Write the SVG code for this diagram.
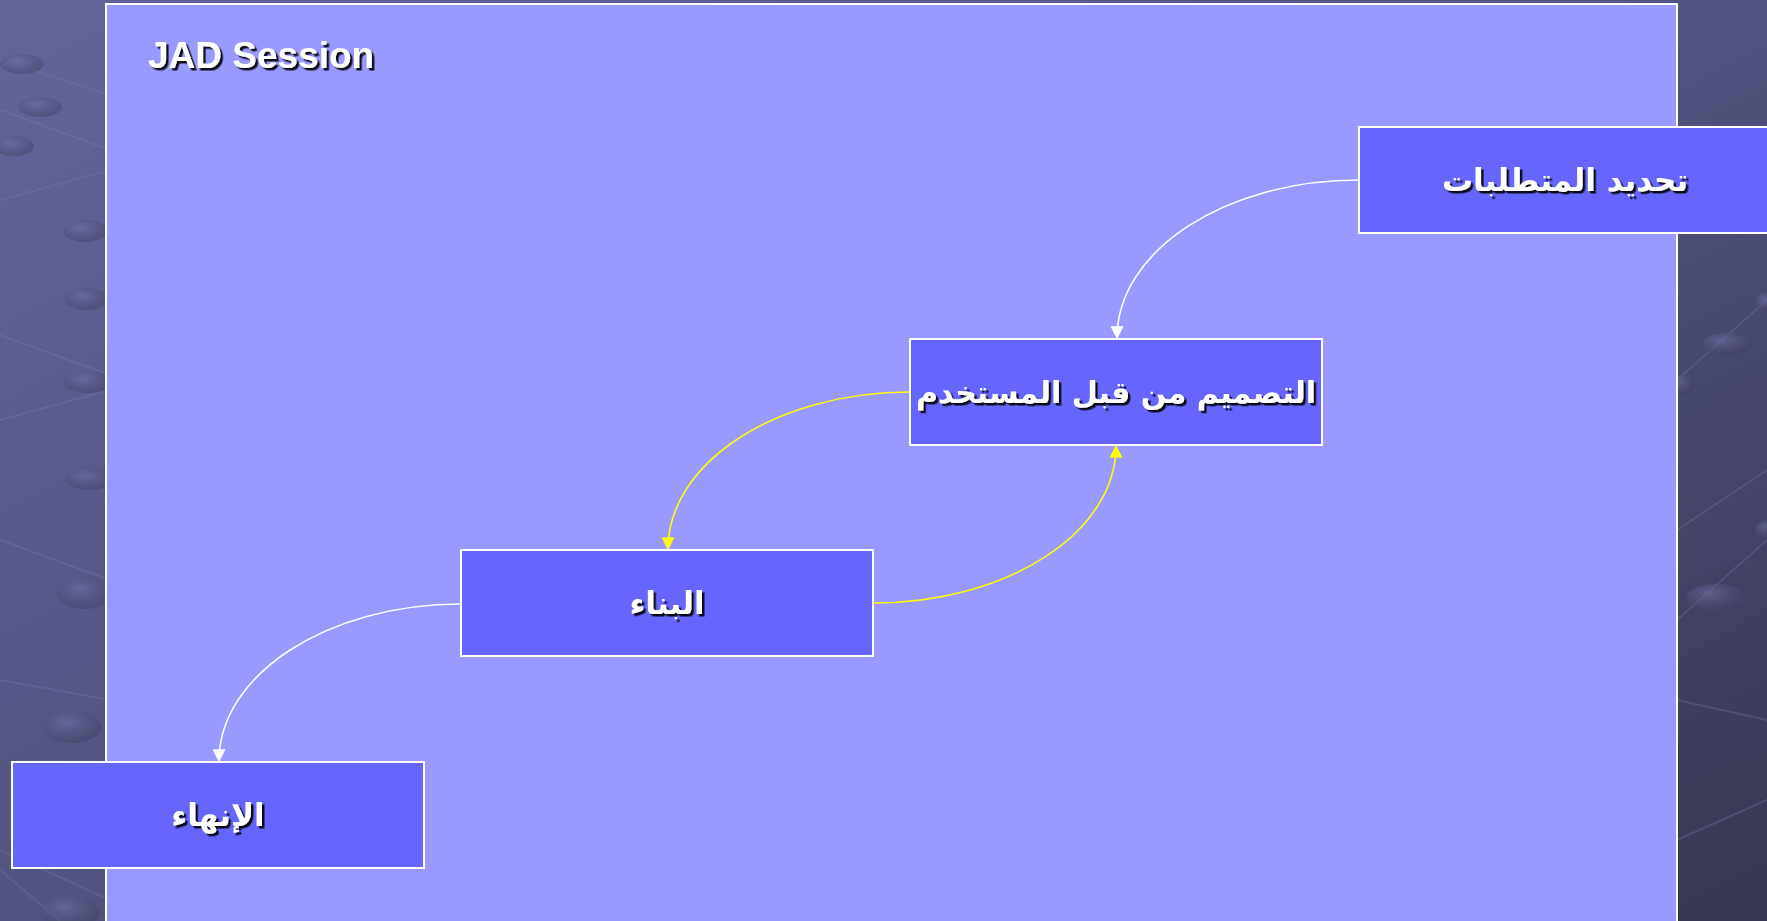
<svg xmlns="http://www.w3.org/2000/svg" width="1767" height="921" viewBox="0 0 1767 921">
<defs>
<linearGradient id="bg" x1="0" y1="0" x2="1" y2="1">
<stop offset="0" stop-color="#62639a"/>
<stop offset="0.5" stop-color="#52537f"/>
<stop offset="1" stop-color="#363650"/>
</linearGradient>
<radialGradient id="dot" cx="0.4" cy="0.35" r="0.7">
<stop offset="0" stop-color="#7070a6" stop-opacity="0.6"/>
<stop offset="1" stop-color="#3a3a5a" stop-opacity="0.4"/>
</radialGradient>
<filter id="sh" x="-10%" y="-30%" width="130%" height="170%">
<feDropShadow dx="2.5" dy="2.5" stdDeviation="0.6" flood-color="#000000" flood-opacity="0.9"/>
</filter>
<marker id="aw" viewBox="0 0 10 10" refX="9" refY="5" markerWidth="14" markerHeight="13" markerUnits="userSpaceOnUse" orient="auto">
<path d="M0,0 L10,5 L0,10 z" fill="#ffffff"/>
</marker>
<marker id="ay" viewBox="0 0 10 10" refX="9" refY="5" markerWidth="14" markerHeight="13" markerUnits="userSpaceOnUse" orient="auto">
<path d="M0,0 L10,5 L0,10 z" fill="#ffff00"/>
</marker>
</defs>
<style>
.node rect { fill: #6666ff; stroke: #ffffff; stroke-width: 2; }
.lbl { font-family: "DejaVu Sans", "Noto Sans", sans-serif; font-weight: bold; font-size: 31px; fill: #ffffff; text-anchor: middle; filter: url(#sh); }
.lbl.long { font-size: 30px; }
.title { font-family: "Liberation Sans", Arial, sans-serif; font-weight: bold; font-size: 37px; fill: #ffffff; filter: url(#sh); }
.cw { fill: none; stroke: #ffffff; stroke-width: 1.6; marker-end: url(#aw); }
.cy { fill: none; stroke: #ffff00; stroke-width: 1.6; marker-end: url(#ay); }
.deco { stroke: #7a7ab0; stroke-opacity: 0.3; stroke-width: 2; fill: none; }
</style>
<rect x="0" y="0" width="1767" height="921" fill="url(#bg)"/>
<g id="background-decor">
<path class="deco" d="M0,60 L110,95 M0,110 L110,150 M0,200 L110,170 M0,335 L110,375 M0,420 L110,390 M0,540 L110,580 M0,680 L110,700 M0,850 L110,900 M0,870 L60,921"/>
<ellipse cx="22" cy="64" rx="22" ry="10" fill="url(#dot)"/>
<ellipse cx="40" cy="107" rx="22" ry="10" fill="url(#dot)"/>
<ellipse cx="14" cy="146" rx="20" ry="10" fill="url(#dot)"/>
<ellipse cx="85" cy="231" rx="22" ry="11" fill="url(#dot)"/>
<ellipse cx="86" cy="299" rx="22" ry="11" fill="url(#dot)"/>
<ellipse cx="88" cy="382" rx="25" ry="11" fill="url(#dot)"/>
<ellipse cx="90" cy="479" rx="25" ry="11" fill="url(#dot)"/>
<ellipse cx="85" cy="593" rx="28" ry="16" fill="url(#dot)"/>
<ellipse cx="72" cy="727" rx="30" ry="16" fill="url(#dot)"/>
<ellipse cx="70" cy="912" rx="30" ry="16" fill="url(#dot)"/>
<path class="deco" d="M1677,380 L1767,300 M1677,530 L1767,470 M1677,620 L1767,540 M1677,700 L1767,720 M1677,840 L1767,800"/>
<ellipse cx="1727" cy="344" rx="25" ry="11" fill="url(#dot)"/>
<ellipse cx="1680" cy="385" rx="14" ry="10" fill="url(#dot)"/>
<ellipse cx="1716" cy="598" rx="30" ry="14" fill="url(#dot)"/>
<ellipse cx="1767" cy="302" rx="12" ry="10" fill="url(#dot)"/>
<ellipse cx="1767" cy="530" rx="12" ry="10" fill="url(#dot)"/>
</g>
<rect id="panel" x="106" y="4" width="1571" height="930" fill="#9999ff" stroke="#ffffff" stroke-width="2"/>
<text class="title" x="148" y="68">JAD Session</text>
<g id="connectors">
<path class="cw" d="M1359,180 C1225,180 1117,251 1117,338"/>
<path class="cy" d="M910,392 C776,392 668,463 668,549"/>
<path class="cy" d="M873,603 C1007,603 1116,533 1116,446"/>
<path class="cw" d="M461,604 C327,604 219,675 219,761"/>
</g>
<g id="node-requirements" class="node">
<rect x="1359" y="127" width="412" height="106"/>
<text class="lbl" x="1565" y="191">تحديد المتطلبات</text>
</g>
<g id="node-user-design" class="node">
<rect x="910" y="339" width="412" height="106"/>
<text class="lbl long" x="1116" y="403">التصميم من قبل المستخدم</text>
</g>
<g id="node-construction" class="node">
<rect x="461" y="550" width="412" height="106"/>
<text class="lbl" x="667" y="614">البناء</text>
</g>
<g id="node-cutover" class="node">
<rect x="12" y="762" width="412" height="106"/>
<text class="lbl" x="218" y="826">الإنهاء</text>
</g>
</svg>
